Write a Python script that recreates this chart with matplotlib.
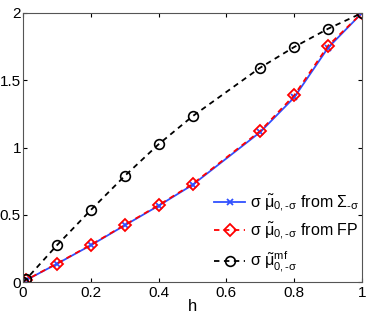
import matplotlib
matplotlib.use("Agg")
import matplotlib.pyplot as plt

# ── data ──
h = [0.0, 0.01, 0.1, 0.2, 0.3, 0.4, 0.5, 0.7, 0.8, 0.9, 1.0]
mu_sigma = [0.0, 0.015, 0.135, 0.273, 0.421, 0.567, 0.722, 1.115, 1.372, 1.742, 2.0]
mu_fp = [0.0, 0.016, 0.137, 0.276, 0.424, 0.571, 0.728, 1.123, 1.388, 1.757, 2.0]
mu_mf = [0.0, 0.022, 0.273, 0.535, 0.788, 1.024, 1.232, 1.594, 1.747, 1.883, 2.0]

xticks = [0, 0.2, 0.4, 0.6, 0.8, 1]
yticks = [0, 0.5, 1, 1.5, 2]
xtick_labels = ["0", "0.2", "0.4", "0.6", "0.8", "1"]
ytick_labels = ["0", "0.5", "1", "1.5", "2"]

plt.rcParams["font.family"] = ["Liberation Sans", "DejaVu Sans"]
plt.rcParams["mathtext.fontset"] = "custom"
plt.rcParams["mathtext.rm"] = "Liberation Sans"
plt.rcParams["mathtext.it"] = "Liberation Sans"
plt.rcParams["mathtext.bf"] = "Liberation Sans:bold"

fig = plt.figure(figsize=(3.74, 3.19), dpi=100)
ax = fig.add_axes([23 / 374, 1 - 282 / 319, 339 / 374, 269 / 319])

sub = r"_{0,\text{-}\sigma}"
ax.plot(h, mu_sigma, color="#3050ff", lw=1.3, marker="x", ms=5, mew=1.3,
        label=r"$\sigma\ \tilde{\mu}" + sub + r"$ from $\Sigma_{\text{-}\sigma}$")
ax.plot(h, mu_fp, color="red", lw=1.3, ls=(0, (3, 2.5)), marker="D", ms=6,
        mfc="none", mew=1.3,
        label=r"$\sigma\ \tilde{\mu}" + sub + r"$ from FP")
ax.plot(h, mu_mf, color="black", lw=1.3, ls=(0, (3, 2.5)), marker="o", ms=7,
        mfc="none", mew=1.2,
        label=r"$\sigma\ \tilde{\mu}^{mf}" + sub + r"$")

ax.set_xlim(0, 1)
ax.set_ylim(0, 2)
ax.set_xticks(xticks)
ax.set_xticklabels(xtick_labels)
ax.set_yticks(yticks)
ax.set_yticklabels(ytick_labels)
ax.tick_params(direction="in", top=True, right=True, labelsize=11, length=3,
               pad=3)
ax.tick_params(axis="y", pad=1.5)
for s in ax.spines.values():
    s.set_color("#555555")
    s.set_linewidth(0.8)
ax.set_xlabel("h", fontsize=12, labelpad=-1)

ax.legend(loc="lower right", frameon=False, fontsize=11.5, handlelength=1.9,
          handletextpad=0.3, labelspacing=0.45, borderaxespad=0.0,
          numpoints=1, bbox_to_anchor=(1.01, 0.005))

fig.savefig("out.png", dpi=100)
